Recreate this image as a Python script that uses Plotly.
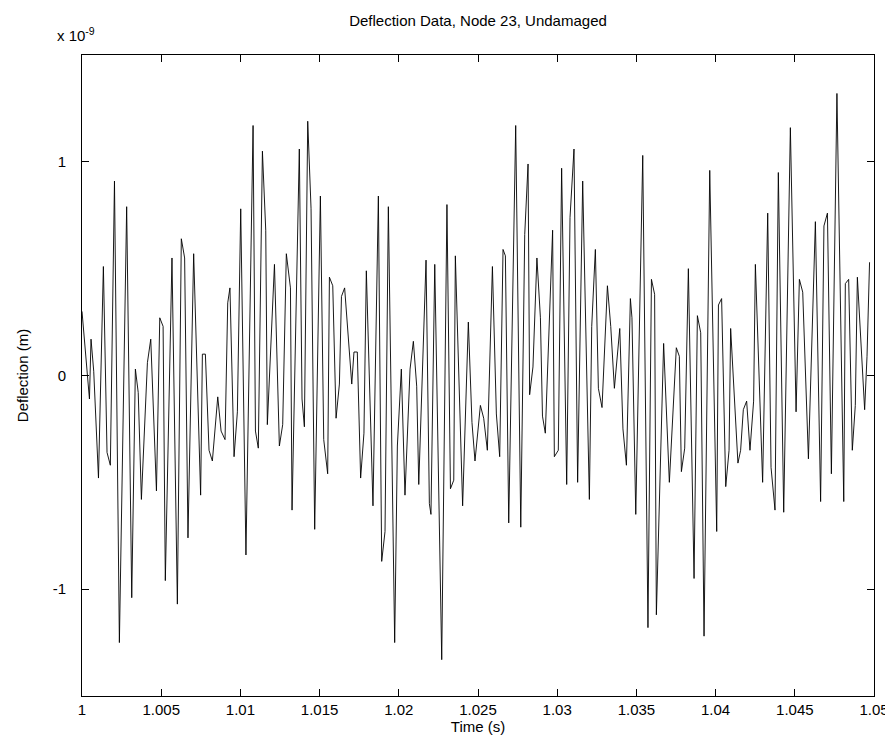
import plotly.graph_objects as go

# Vertex times (ms after t = 1 s) and deflection values (units of 1e-9 m)
time_offset_ms = [
    0.00, 0.47, 0.57, 0.74, 1.04, 1.35, 1.58, 1.79, 2.05, 2.36, 2.82, 3.14, 3.37, 3.55, 3.75,
    4.13, 4.34, 4.70, 4.91, 5.12, 5.26, 5.68, 6.02, 6.27, 6.48, 6.69, 7.05, 7.49, 7.60, 7.79, 8.02, 8.23,
    8.57, 8.78, 9.03, 9.20, 9.34, 9.60, 9.81, 10.02, 10.35, 10.80, 10.95, 11.13, 11.39, 11.60, 11.70, 12.15, 12.46,
    12.67, 12.90, 13.16, 13.26, 13.72, 13.89, 14.04, 14.25, 14.46, 14.69, 15.05, 15.26, 15.51, 15.62, 15.83, 16.04, 16.25, 16.38, 16.58,
    17.03, 17.17, 17.38, 17.59, 17.80, 17.95, 18.37, 18.71, 18.92, 19.13, 19.34, 19.74, 19.91, 20.16, 20.39, 20.71, 20.92,
    21.13, 21.26, 21.72, 21.93, 22.03, 22.27, 22.71, 23.04, 23.26, 23.47, 23.57, 24.03, 24.39, 24.62, 24.81, 25.15,
    25.36, 25.59, 25.91, 26.16, 26.37, 26.58, 26.73, 26.94, 27.38, 27.70, 27.95, 28.16, 28.26, 28.47, 28.72, 28.94, 29.07, 29.25,
    29.71, 29.82, 30.07, 30.28, 30.60, 30.81, 31.06, 31.29, 31.61, 32.03, 32.18, 32.41, 32.60, 32.83, 33.17, 33.38, 33.61,
    33.95, 34.15, 34.37, 34.62, 34.72, 34.96, 35.40, 35.73, 35.95, 36.15, 36.26, 36.72, 37.08, 37.52, 37.71, 37.84,
    38.05, 38.28, 38.64, 38.85, 39.06, 39.27, 39.63, 40.07, 40.18, 40.38, 40.64, 40.85, 40.95, 41.41, 41.58, 41.75, 41.96, 42.17,
    42.40, 42.51, 42.97, 43.29, 43.50, 43.75, 43.96, 44.30, 44.72, 45.08, 45.29, 45.50, 45.86, 46.30,
    46.63, 46.84, 47.06, 47.31, 47.66, 48.09, 48.19, 48.40, 48.63, 48.82, 48.95, 49.41, 49.56, 49.72,
]
deflection_e9 = [
    0.30, -0.11, 0.17, 0.02, -0.48, 0.51, -0.36, -0.42, 0.91, -1.25, 0.79, -1.04, 0.03, -0.08, -0.58,
    0.06, 0.17, -0.54, 0.27, 0.23, -0.96, 0.55, -1.07, 0.64, 0.55, -0.76, 0.57, -0.56, 0.10, 0.10, -0.35, -0.40,
    -0.10, -0.26, -0.30, 0.34, 0.41, -0.38, -0.17, 0.78, -0.84, 1.17, -0.26, -0.34, 1.05, 0.68, -0.23, 0.52, -0.33,
    -0.23, 0.57, 0.41, -0.63, 1.06, -0.11, -0.24, 1.19, 0.78, -0.72, 0.84, -0.30, -0.46, 0.46, 0.42, -0.20, -0.04, 0.37, 0.41,
    -0.04, 0.11, 0.11, -0.48, -0.27, 0.49, -0.61, 0.84, -0.87, -0.73, 0.79, -1.25, -0.33, 0.03, -0.56, 0.03, 0.16,
    -0.05, -0.51, 0.54, -0.60, -0.65, 0.52, -1.33, 0.80, -0.53, -0.49, 0.56, -0.61, 0.25, -0.22, -0.40, -0.14,
    -0.20, -0.35, 0.51, -0.18, -0.38, 0.59, 0.56, -0.69, 1.17, -0.71, 0.66, 0.99, -0.09, 0.04, 0.55, 0.27, -0.19, -0.27,
    0.68, -0.38, -0.35, 0.97, -0.51, 0.74, 1.06, -0.50, 0.91, -0.58, 0.23, 0.59, -0.06, -0.15, 0.42, 0.23, -0.06,
    0.22, -0.25, -0.42, 0.36, 0.27, -0.65, 1.03, -1.18, 0.45, 0.38, -1.12, 0.15, -0.50, 0.13, 0.09, -0.45,
    -0.34, 0.50, -0.95, 0.28, 0.20, -1.22, 0.96, -0.73, 0.33, 0.36, -0.52, -0.35, 0.22, -0.41, -0.35, -0.16, -0.12, -0.35,
    -0.12, 0.52, -0.50, 0.76, -0.43, -0.63, 0.95, -0.64, 1.16, -0.17, 0.45, 0.39, -0.39, 0.72,
    -0.59, 0.70, 0.76, -0.46, 1.32, -0.59, 0.43, 0.45, -0.35, -0.14, 0.46, -0.16, 0.09, 0.53,
]

x_tick_vals = [1.0, 1.005, 1.01, 1.015, 1.02, 1.025, 1.03, 1.035, 1.04, 1.045, 1.05]
x_tick_text = ["1", "1.005", "1.01", "1.015", "1.02", "1.025", "1.03", "1.035", "1.04", "1.045", "1.05"]
y_tick_vals_e9 = [-1, 0, 1]
y_tick_text = ["-1", "0", "1"]

t = [1.0 + ms / 1000.0 for ms in time_offset_ms]
y = [v * 1e-9 for v in deflection_e9]

FONT = "Liberation Sans, Arial, sans-serif"

fig = go.Figure()
fig.add_trace(go.Scatter(x=t, y=y, mode="lines",
                         line=dict(color="black", width=0.9), hoverinfo="skip"))

axis_common = dict(showline=True, linecolor="black", linewidth=1, mirror="ticks",
                   ticks="inside", ticklen=7, tickcolor="black", showgrid=False,
                   zeroline=False, tickfont=dict(family=FONT, size=15, color="black"))

fig.update_layout(
    width=893, height=756,
    margin=dict(l=74, r=27, t=47, b=68),
    paper_bgcolor="white", plot_bgcolor="white",
    showlegend=False,
    font=dict(family=FONT, size=15, color="black"),
    title=dict(text="Deflection Data, Node 23, Undamaged", x=0.5, xref="paper",
               y=1 - 13 / 756, yref="container", yanchor="middle",
               font=dict(family=FONT, size=15, color="black")),
    xaxis=dict(range=[1.0, 1.05], tickvals=x_tick_vals, ticktext=x_tick_text,
               title=dict(text="Time (s)", font=dict(family=FONT, size=15), standoff=4),
               **axis_common),
    yaxis=dict(range=[-1.5e-9, 1.5e-9], tickvals=[v * 1e-9 for v in y_tick_vals_e9],
               ticktext=y_tick_text, ticklabelstandoff=12,
               title=dict(text="Deflection (m)", font=dict(family=FONT, size=15), standoff=20),
               **axis_common),
)

fig.add_annotation(text="x 10<sup>-9</sup>", xref="paper", yref="paper", x=0, y=1,
                   xanchor="left", yanchor="bottom", xshift=-27, yshift=9, showarrow=False,
                   font=dict(family=FONT, size=15, color="black"))

fig.write_html("out.html")
